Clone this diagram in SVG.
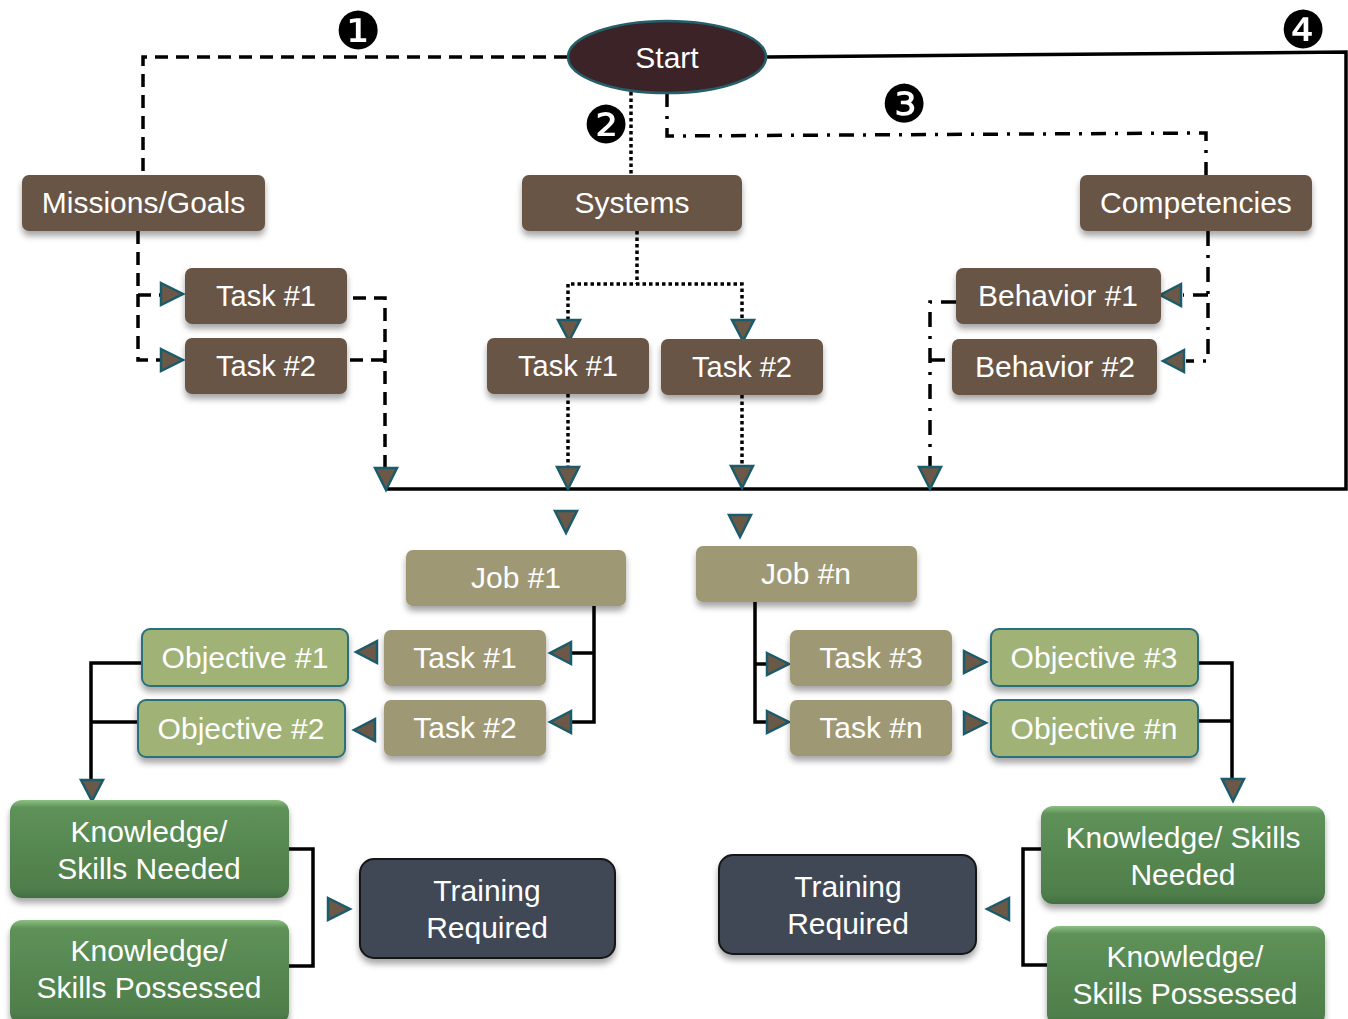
<svg xmlns="http://www.w3.org/2000/svg" width="1348" height="1019" viewBox="0 0 1348 1019">
<defs>
<filter id="sh" x="-10%" y="-20%" width="120%" height="160%">
<feDropShadow dx="0" dy="5" stdDeviation="3" flood-color="#000" flood-opacity="0.35"/>
</filter>
<linearGradient id="gk" x1="0" y1="0" x2="0" y2="1">
<stop offset="0" stop-color="#8cc083"/>
<stop offset="0.08" stop-color="#5e9158"/>
<stop offset="0.9" stop-color="#4f7e4b"/>
<stop offset="1" stop-color="#436f40"/>
</linearGradient>
</defs>
<style>
.br{fill:#685545;filter:url(#sh)}
.ol{fill:#9e9874;filter:url(#sh)}
.ob{fill:#a0b276;stroke:#2c6f7d;stroke-width:2;filter:url(#sh)}
.ks{fill:url(#gk);filter:url(#sh)}
.tr{fill:#404655;stroke:#151515;stroke-width:2;filter:url(#sh)}
text{font-family:"Liberation Sans",Arial,sans-serif;font-size:30px;fill:#fff;text-anchor:middle}
.t29{font-size:29px}
.num{font-family:"DejaVu Sans",sans-serif;font-size:52px;fill:#000}
.c{fill:none;stroke:#000;stroke-width:3.5}
.sd{fill:none;stroke:#000;stroke-width:3.5;stroke-dasharray:13 8}
.dt{fill:none;stroke:#000;stroke-width:3.5;stroke-dasharray:3.5 3}
.dd{fill:none;stroke:#000;stroke-width:3.5;stroke-dasharray:15 9 3 9}
.ah{fill:#6b5846;stroke:#1b5c6c;stroke-width:2.5;stroke-linejoin:miter}
</style>

<g id="connectors">
<path class="sd" d="M567,57 H143 V175"/>
<path class="dt" d="M631,92 V175"/>
<path class="dd" d="M667,92 V136 L1206,133 V175"/>
<path class="c" d="M766,57 L1346,52 V489 H386"/>
<path class="sd" d="M138,231 V360 H160 M138,295 H160"/>
<path class="sd" d="M353,298 H385 V468 M350,360 H385"/>
<path class="dt" d="M637,231 V284 M568,320 V284 H742 V320"/>
<path class="dt" d="M568,394 V467 M742,395 V466"/>
<path class="dd" d="M1208,231 V361 H1186 M1208,295 H1183"/>
<path class="dd" d="M956,302 H930 V467 M930,360 H950"/>
<path class="c" d="M594,606 V722 H566 M594,653 H566"/>
<path class="c" d="M141,663 H91 V780 M138,722 H91"/>
<path class="c" d="M755,602 V722 H770 M755,664 H770"/>
<path class="c" d="M1198,663 H1232 V780 M1198,721 H1232"/>
<path class="c" d="M289,849 H313 V966 H289"/>
<path class="c" d="M1041,849 H1023 V965 H1047"/>
<polygon class="ah" points="161,283 183,294 161,305"/>
<polygon class="ah" points="161,349 183,360 161,371"/>
<polygon class="ah" points="375,468 397,468 386,490"/>
<polygon class="ah" points="558,320 580,320 569,341"/>
<polygon class="ah" points="732,320 754,320 743,341"/>
<polygon class="ah" points="557,467 579,467 568,489"/>
<polygon class="ah" points="731,466 753,466 742,488"/>
<polygon class="ah" points="555,511 577,511 566,533"/>
<polygon class="ah" points="729,515 751,515 740,537"/>
<polygon class="ah" points="1181,284 1160,295 1181,306"/>
<polygon class="ah" points="1184,350 1163,361 1184,372"/>
<polygon class="ah" points="919,467 941,467 930,489"/>
<polygon class="ah" points="571,642 550,653 571,664"/>
<polygon class="ah" points="571,711 550,722 571,733"/>
<polygon class="ah" points="377,641 356,652 377,663"/>
<polygon class="ah" points="375,719 354,730 375,741"/>
<polygon class="ah" points="81,780 103,780 92,801"/>
<polygon class="ah" points="767,653 789,664 767,675"/>
<polygon class="ah" points="767,711 789,722 767,733"/>
<polygon class="ah" points="964,651 986,662 964,673"/>
<polygon class="ah" points="964,712 986,723 964,734"/>
<polygon class="ah" points="1222,779 1244,779 1233,801"/>
<polygon class="ah" points="328,898 350,909 328,920"/>
<polygon class="ah" points="1009,898 987,909 1009,920"/>
</g>

<g id="labels">
<text class="num" x="358" y="49">❶</text>
<text class="num" x="606" y="143">❷</text>
<text class="num" x="904" y="122">❸</text>
<text class="num" x="1303" y="48">❹</text>
</g>

<g id="start"><ellipse cx="667" cy="57" rx="99" ry="36" fill="#3b2327" stroke="#24606c" stroke-width="2.5"/><text x="667" y="68">Start</text></g>
<g id="missions"><rect class="br" x="22" y="175" width="243" height="56" rx="7"/><text x="143.5" y="213">Missions/Goals</text></g>
<g id="systems"><rect class="br" x="522" y="175" width="220" height="56" rx="7"/><text x="632" y="213">Systems</text></g>
<g id="competencies"><rect class="br" x="1080" y="175" width="232" height="56" rx="7"/><text x="1196" y="213">Competencies</text></g>
<g id="m-task1"><rect class="br" x="185" y="268" width="162" height="56" rx="7"/><text class="t29" x="266" y="306">Task #1</text></g>
<g id="m-task2"><rect class="br" x="185" y="338" width="162" height="56" rx="7"/><text class="t29" x="266" y="376">Task #2</text></g>
<g id="s-task1"><rect class="br" x="487" y="338" width="162" height="56" rx="7"/><text class="t29" x="568" y="376">Task #1</text></g>
<g id="s-task2"><rect class="br" x="661" y="339" width="162" height="56" rx="7"/><text class="t29" x="742" y="377">Task #2</text></g>
<g id="behavior1"><rect class="br" x="956" y="268" width="205" height="56" rx="7"/><text x="1058" y="306">Behavior #1</text></g>
<g id="behavior2"><rect class="br" x="952" y="339" width="205" height="56" rx="7"/><text x="1055" y="377">Behavior #2</text></g>

<g id="job1"><rect class="ol" x="406" y="550" width="220" height="56" rx="7"/><text x="516" y="588">Job #1</text></g>
<g id="jobn"><rect class="ol" x="696" y="546" width="221" height="56" rx="7"/><text x="806" y="584">Job #n</text></g>
<g id="j-task1"><rect class="ol" x="384" y="630" width="162" height="56" rx="7"/><text x="465" y="668">Task #1</text></g>
<g id="j-task2"><rect class="ol" x="384" y="700" width="162" height="56" rx="7"/><text x="465" y="738">Task #2</text></g>
<g id="objective1"><rect class="ob" x="142" y="629" width="206" height="57" rx="8"/><text x="245" y="668">Objective #1</text></g>
<g id="objective2"><rect class="ob" x="138" y="700" width="207" height="57" rx="8"/><text x="241" y="739">Objective #2</text></g>
<g id="task3"><rect class="ol" x="790" y="630" width="162" height="56" rx="7"/><text x="871" y="668">Task #3</text></g>
<g id="taskn"><rect class="ol" x="790" y="700" width="162" height="56" rx="7"/><text x="871" y="738">Task #n</text></g>
<g id="objective3"><rect class="ob" x="991" y="629" width="207" height="57" rx="8"/><text x="1094" y="668">Objective #3</text></g>
<g id="objectiven"><rect class="ob" x="991" y="700" width="207" height="57" rx="8"/><text x="1094" y="739">Objective #n</text></g>

<g id="ks-needed-l"><rect class="ks" x="10" y="800" width="279" height="98" rx="12"/><text x="149" y="842">Knowledge/</text><text x="149" y="879">Skills Needed</text></g>
<g id="ks-possessed-l"><rect class="ks" x="10" y="920" width="279" height="104" rx="12"/><text x="149" y="961">Knowledge/</text><text x="149" y="998">Skills Possessed</text></g>
<g id="training-l"><rect class="tr" x="360" y="859" width="255" height="99" rx="14"/><text x="487" y="901">Training</text><text x="487" y="938">Required</text></g>
<g id="training-r"><rect class="tr" x="719" y="855" width="257" height="99" rx="14"/><text x="848" y="897">Training</text><text x="848" y="934">Required</text></g>
<g id="ks-needed-r"><rect class="ks" x="1041" y="806" width="284" height="98" rx="12"/><text x="1183" y="848">Knowledge/ Skills</text><text x="1183" y="885">Needed</text></g>
<g id="ks-possessed-r"><rect class="ks" x="1047" y="926" width="278" height="100" rx="12"/><text x="1185" y="967">Knowledge/</text><text x="1185" y="1004">Skills Possessed</text></g>
</svg>
